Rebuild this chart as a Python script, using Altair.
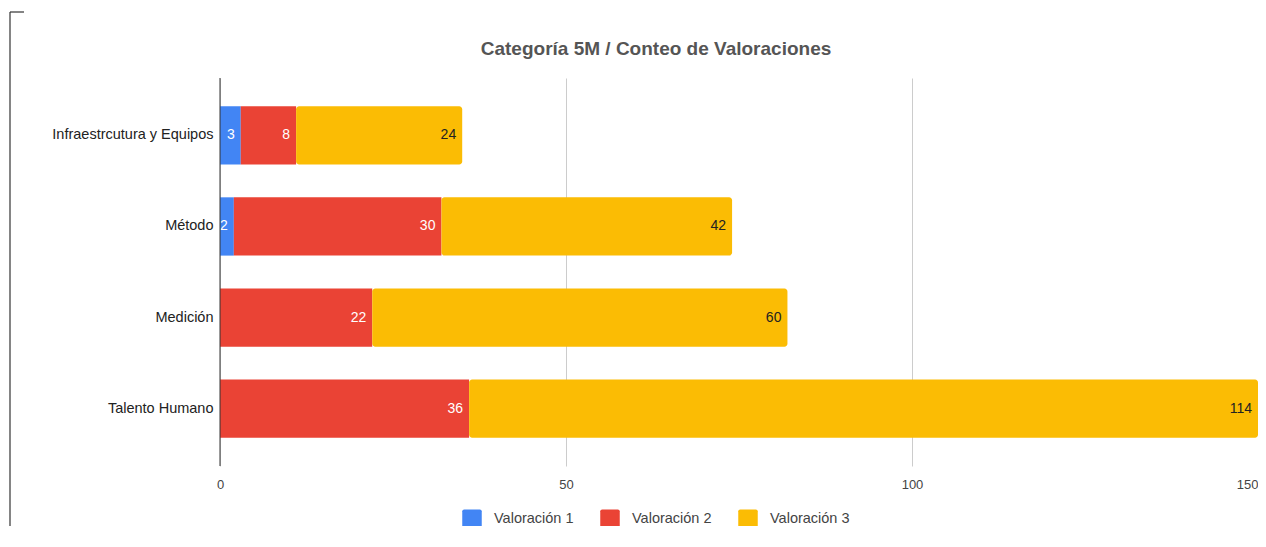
import altair as alt
import pandas as pd

categories = ["Infraestrcutura y Equipos", "Método", "Medición", "Talento Humano"]
series = ["Valoración 1", "Valoración 2", "Valoración 3"]
val1 = [3, 2, 0, 0]
val2 = [8, 30, 22, 36]
val3 = [24, 42, 60, 114]
colors = ["#4285F4", "#EA4335", "#FBBC04"]
x_ticks = [0, 50, 100, 150]

rows = []
for i, c in enumerate(categories):
    for s, vals in zip(series, [val1, val2, val3]):
        rows.append({"cat": c, "serie": s, "value": vals[i]})
df = pd.DataFrame(rows)

FONT = "Arial, Liberation Sans"
ROUNDED = ("M -0.8 -1 H 0.8 Q 1 -1 1 -0.8 V 0.8 Q 1 1 0.8 1 H -0.8 "
           "Q -1 1 -1 0.8 V -0.8 Q -1 -1 -0.8 -1 Z")

base = alt.Chart(df).transform_stack(
    stack="value", groupby=["cat"], as_=["x0", "x1"], sort=[{"field": "serie", "order": "ascending"}]
)

xenc = alt.X("x0:Q", title=None,
             scale=alt.Scale(domain=[0, 150], nice=False, zero=True),
             axis=alt.Axis(values=x_ticks, grid=True, gridColor="#cccccc", domain=False,
                           ticks=False, labelPadding=12, labelFontSize=13, labelColor="#444444",
                           labelFont=FONT, labelFlush=False, labelOverlap=False,
                           labelAlign={"condition": {"test": "datum.value >= 150", "value": "right"},
                                       "value": "center"}))
yenc = alt.Y("cat:N", sort=categories, title=None,
             scale=alt.Scale(paddingInner=0.36, paddingOuter=0.31),
             axis=alt.Axis(domain=False, ticks=False, labelPadding=7, labelFontSize=14.5,
                           labelColor="#222222", labelFont=FONT))
cenc = alt.Color("serie:N", title=None,
                 scale=alt.Scale(domain=series, range=colors),
                 legend=alt.Legend(orient="none", legendX=242, legendY=431, direction="horizontal",
                                   symbolType=ROUNDED, symbolSize=380, symbolStrokeWidth=0,
                                   labelFontSize=14.5, labelColor="#444444", labelFont=FONT,
                                   labelOffset=12, columnPadding=26))

bars = base.transform_filter("datum.serie !== 'Valoración 3'").mark_bar().encode(
    x=xenc, x2="x1:Q", y=yenc, color=cenc)
bars3 = base.transform_filter("datum.serie === 'Valoración 3'").mark_bar(cornerRadiusEnd=3).encode(
    x=xenc, x2="x1:Q", y=yenc, color=cenc)

labels = base.transform_filter("datum.value > 0").mark_text(
    align="right", baseline="middle", dx=-6, fontSize=14, font=FONT).encode(
    x=alt.X("x1:Q"), y=alt.Y("cat:N", sort=categories),
    text=alt.Text("value:Q"),
    color=alt.condition("datum.serie === 'Valoración 3'", alt.value("#222222"), alt.value("#ffffff")))

zero_rule = alt.Chart(pd.DataFrame({"z": [0]})).mark_rule(color="#333333", strokeWidth=1).encode(
    x=alt.X("z:Q"))

frame_df = pd.DataFrame({"k": [0]})
frame_left = alt.Chart(frame_df).mark_rule(color="#333333", strokeWidth=1.2).encode(
    x=alt.value(-210), y=alt.value(-66), y2=alt.value(480))
frame_top = alt.Chart(frame_df).mark_rule(color="#333333", strokeWidth=1.2).encode(
    x=alt.value(-210), x2=alt.value(-196), y=alt.value(-66))

chart = alt.layer(bars, bars3, labels, zero_rule, frame_left, frame_top).properties(
    width=1038, height=388,
    title=alt.TitleParams("Categoría 5M / Conteo de Valoraciones", anchor="middle", dx=-83, dy=70,
                          fontSize=19, font=FONT, fontWeight="bold", color="#555555", offset=22),
    autosize=alt.AutoSizeParams(type="none"),
    padding={"left": 212, "top": 70, "right": 0, "bottom": 60},
).configure(background="white").configure_view(stroke="transparent", strokeWidth=0)

chart.save("out.html", embed_options={"renderer": "svg", "actions": False})
